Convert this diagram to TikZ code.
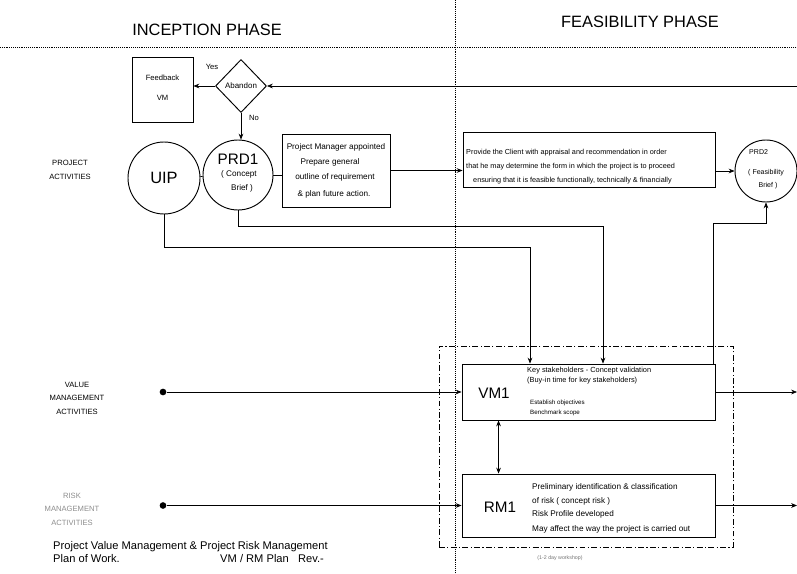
\documentclass[tikz,border=0pt]{standalone}
\usepackage{fontspec}
\setmainfont{Liberation Sans}
\usetikzlibrary{shapes.geometric,arrows.meta,calc}

\newcommand{\txtsize}[1]{\fontsize{#1}{#1}\selectfont}

\begin{document}
\begin{tikzpicture}[x=0.3mm,y=-0.3mm,
  box/.style={draw,line width=0.8pt,rectangle,inner sep=0},
  circ/.style={draw,line width=0.8pt,circle,inner sep=0},
  lbl/.style={inner sep=0,font=\txtsize{7}},
  conn/.style={line width=0.6pt},
  arr/.style={conn,-{Stealth[length=5pt,width=4pt]}},
  dbl/.style={conn,{Stealth[length=5pt,width=4pt]}-{Stealth[length=5pt,width=4pt]}},
  dot/.style={circle,fill,inner sep=0,minimum size=2mm},
  divider/.style={densely dotted,line width=0.6pt},
  frame/.style={draw,line width=0.5pt,dash pattern=on 5pt off 2pt on 1pt off 2pt,inner sep=0},
  side/.style={inner sep=0,align=center,font=\fontsize{6.5}{11.5}\selectfont},
]
\useasboundingbox (0,0) rectangle (797,574);

% phase dividers
\coordinate (vtop) at (455,0);
\coordinate (vbot) at (455,574);
\coordinate (hleft) at (0,47);
\coordinate (hright) at (797,47);
\draw[divider] (vtop) -- (vbot);
\draw[divider] (hleft) -- (hright);

\node[inner sep=0,font=\txtsize{14}] (tinc) at (207,30) {INCEPTION PHASE};
\node[inner sep=0,font=\txtsize{14}] (tfea) at (640,22) {FEASIBILITY PHASE};

% row labels
\node[side] (lproj) at (70,170) {PROJECT\\ACTIVITIES};
\node[side] (lvm) at (77,398) {VALUE\\MANAGEMENT\\ACTIVITIES};
\node[side,text=black!45] (lrm) at (72,509) {RISK\\MANAGEMENT\\ACTIVITIES};

% feedback loop
\node[box,minimum width=18.3mm,minimum height=19.5mm] (fb) at (162.5,89.5) {};
\node[lbl,font=\txtsize{6.5}] (fbt1) at (162.5,78) {Feedback};
\node[lbl,font=\txtsize{6.5}] (fbt2) at (162.5,98) {VM};
\node[draw,line width=0.8pt,diamond,inner sep=0,minimum width=15.3mm,minimum height=15.9mm,font=\txtsize{6.8}] (ab) at (241,86) {Abandon};
\node[lbl,font=\txtsize{6.5}] (yes) at (212,67) {Yes};
\node[lbl,font=\txtsize{6.5}] (no) at (254,118) {No};

% project activities
\node[circ,minimum size=21.6mm,font=\txtsize{14}] (uip) at (164,178) {UIP};
\node[circ,minimum size=21mm] (prd1) at (238,175) {};
\node[lbl,font=\txtsize{13}] (prd1a) at (238,159) {PRD1};
\node[lbl] (prd1b) at (239,174) {( Concept};
\node[lbl] (prd1c) at (242,188) {Brief )};

\node[box,minimum width=32.4mm,minimum height=21.9mm] (pm) at (336,170.5) {};
\node[lbl] (pm1) at (336,147) {Project Manager appointed};
\node[lbl] (pm2) at (330,162) {Prepare general};
\node[lbl] (pm3) at (335,177) {outline of requirement};
\node[lbl] (pm4) at (334,194) {\& plan future action.};

\node[box,minimum width=75.6mm,minimum height=16.5mm] (prov) at (589,159.5) {};
\node[lbl,font=\txtsize{6.2},anchor=west] (prov1) at (466,153) {Provide the Client with appraisal and recommendation in order};
\node[lbl,font=\txtsize{6.2},anchor=west] (prov2) at (466,167) {that he may determine the form in which the project is to proceed};
\node[lbl,font=\txtsize{6.2},anchor=west] (prov3) at (473,181) {ensuring that it is feasible functionally, technically \& financially};

\node[circ,minimum size=18.6mm] (prd2) at (766,171) {};
\node[lbl,font=\txtsize{6},anchor=west] (prd2a) at (749,152) {PRD2};
\node[lbl,font=\txtsize{6}] (prd2b) at (766,173) {( Feasibility};
\node[lbl,font=\txtsize{6}] (prd2c) at (768,186) {Brief )};

% workshop frame
\node[frame,minimum width=88.2mm,minimum height=60.3mm] (ws) at (586,446.5) {};
\node[lbl,font=\txtsize{4.5},text=black!55] (wsl) at (560,558) {(1-2 day workshop)};

% value management
\node[box,minimum width=75.9mm,minimum height=16.8mm] (vm1) at (588.5,392) {};
\node[lbl,font=\txtsize{13}] (vm1t) at (494,393) {VM1};
\node[lbl,font=\txtsize{6.3},anchor=west] (vmk) at (527,371) {Key stakeholders - Concept validation};
\node[lbl,font=\txtsize{6.3},anchor=west] (vmb) at (527,381) {(Buy-in time for key stakeholders)};
\node[lbl,font=\txtsize{5.3},anchor=west] (vme) at (530,403) {Establish objectives};
\node[lbl,font=\txtsize{5.3},anchor=west] (vmbs) at (530,413) {Benchmark scope};

% risk management
\node[box,minimum width=75.9mm,minimum height=18.9mm] (rm1) at (588.5,505.5) {};
\node[lbl,font=\txtsize{13}] (rm1t) at (500,507) {RM1};
\node[lbl,anchor=west] (rm1a) at (532,487) {Preliminary identification \& classification};
\node[lbl,anchor=west] (rm1b) at (532,501) {of risk ( concept risk )};
\node[lbl,anchor=west] (rm1c) at (532,514) {Risk Profile developed};
\node[lbl,anchor=west] (rm1d) at (532,529) {May affect the way the project is carried out};

% footer
\node[inner sep=0,font=\txtsize{9.5},anchor=west] (ft1) at (53,547) {Project Value Management \& Project Risk Management};
\node[inner sep=0,font=\txtsize{9.5},anchor=west] (ft2) at (53,559) {Plan of Work.};
\node[inner sep=0,font=\txtsize{9.5},anchor=west] (ft3) at (220,559) {VM / RM Plan\ \ \ Rev.-};

% connectors
\coordinate (abin) at (797,86);
\draw[arr] (abin) -- (ab.east);
\draw[arr] (ab.west) -- (ab.west -| fb.east);
\draw[arr] (ab.south) -- (ab.south |- prd1.north);
\draw[conn] (uip) -- (prd1);
\draw[conn] (prd1.east) -- (prd1.east -| pm.west);
\draw[arr] (pm.east) -- (pm.east -| prov.west);
\draw[arr] (prov.east |- prd2.west) -- (prd2.west);

\coordinate (uipbend) at (530,247);
\draw[arr] (uip.south) |- (uipbend) -- (uipbend |- vm1.north);
\coordinate (prdbend) at (603,226);
\draw[arr] (prd1.south) |- (prdbend) -- (prdbend |- vm1.north);
\coordinate (prd2bend) at (766,223);
\draw[arr] ([xshift=-0.6mm]vm1.north east) |- (prd2bend) -- (prd2.south);

\node[dot] (vmdot) at (163,392) {};
\draw[arr] (vmdot) -- (vm1.west);
\coordinate (vmout) at (797,392);
\draw[arr] (vm1.east) -- (vmout);

\node[dot] (rmdot) at (163,505.5) {};
\draw[arr] (rmdot) -- (rm1.west);
\coordinate (rmout) at (797,505.5);
\draw[arr] (rm1.east) -- (rmout);

\draw[dbl] ([xshift=11.1mm]vm1.south west) -- ([xshift=11.1mm]rm1.north west);
\end{tikzpicture}
\end{document}
